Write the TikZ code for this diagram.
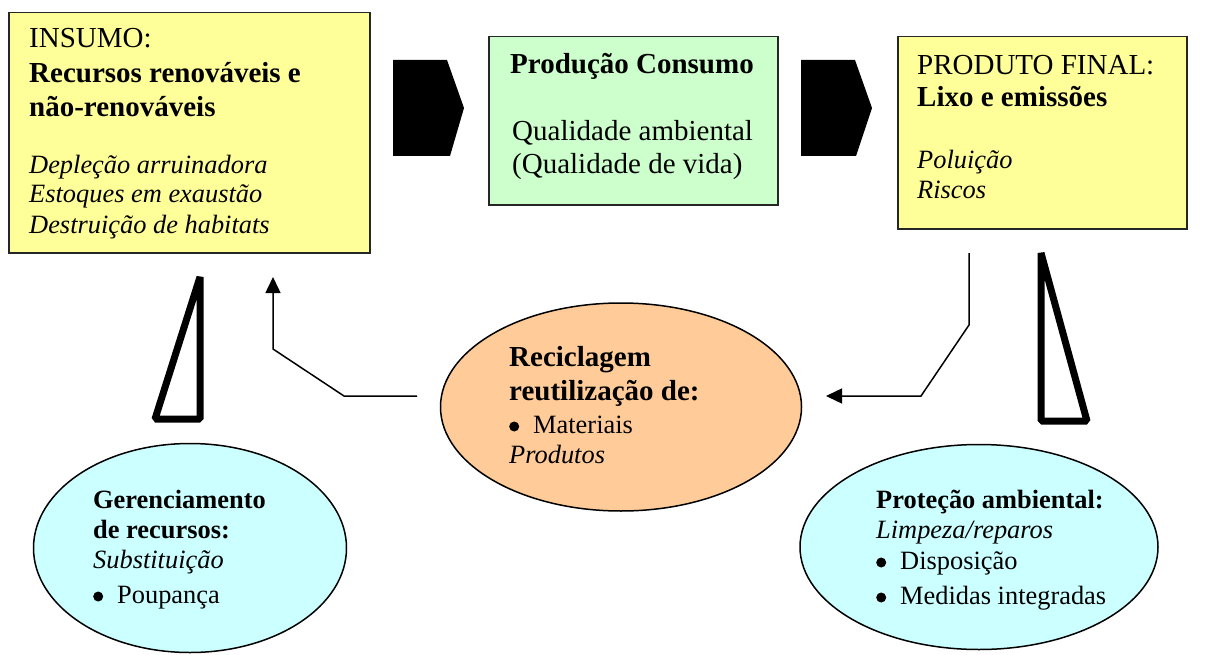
\documentclass[tikz,border=0pt]{standalone}
\usepackage{fontspec}
\setmainfont{Liberation Serif}
\usetikzlibrary{arrows.meta,shapes.geometric}
\definecolor{ylw}{HTML}{FFFF99}
\definecolor{grn}{HTML}{CCFFCC}
\definecolor{org}{HTML}{FFCC99}
\definecolor{cyn}{HTML}{CCFFFF}
\tikzset{
  box/.style={draw=black!85, line width=1.5pt, anchor=north west, inner sep=0pt},
  oval/.style={draw=black, line width=1.5pt, ellipse, inner sep=0pt},
  txt/.style={anchor=base west, inner sep=0pt},
  bigr/.style={txt, font=\fontsize{29}{33}\selectfont},
  bigb/.style={txt, font=\fontsize{29}{33}\selectfont\bfseries},
  nr/.style={txt, font=\fontsize{26.4}{30}\selectfont},
  nb/.style={txt, font=\fontsize{26.4}{30}\selectfont\bfseries},
  ni/.style={txt, font=\fontsize{26.4}{30}\selectfont\itshape},
  conn/.style={line width=1.5pt, -{Triangle[length=16pt,width=15pt]}},
  wedge/.style={line width=7pt, line join=bevel},
}
\newcommand{\bul}{\makebox[24pt][l]{\tikz[baseline=0pt]{\fill (5pt,6.5pt) circle[radius=5pt]; \path (0pt,0pt) (10pt,0pt);}}}
\begin{document}
\begin{tikzpicture}[x=1pt,y=-1pt]
\useasboundingbox (0,0) rectangle (1209,655);
\fill[white] (0,0) rectangle (1209,655);

% boxes
\node[box, fill=ylw, minimum width=361pt, minimum height=240pt] (insumo) at (8,12) {};
\node[box, fill=grn, minimum width=289pt, minimum height=168pt] (prod) at (488,36) {};
\node[box, fill=ylw, minimum width=289pt, minimum height=192pt] (final) at (897,36) {};

% ellipses
\node[oval, fill=org, minimum width=361pt, minimum height=208pt] (recic) at (621,407) {};
\node[oval, fill=cyn, minimum width=313pt, minimum height=209pt] (geren) at (190,548) {};
\node[oval, fill=cyn, minimum width=358pt, minimum height=205pt] (prot) at (979,547) {};

% block arrows
\fill (393,60) -- (447,60) -- (464,108) -- (450,156) -- (393,156) -- cycle;
\fill (801,60) -- (855,60) -- (872,108) -- (856,156) -- (801,156) -- cycle;

% wedges
\draw[wedge] (200,277) -- (200,419) -- (155,419) -- cycle;
\draw[wedge] (1041,253) -- (1041,421) -- (1087,421) -- cycle;

% connectors
\coordinate (lA) at (417,396);
\coordinate (lB) at (273,277);
\draw[conn] (lA) -- (344,396) -- (273,349) -- (lB);
\coordinate (rA) at (969,253);
\coordinate (rB) at (826,396);
\draw[conn] (rA) -- (969,325) -- (921,396) -- (rB);

% texts box 1
\node[bigr] (t1a) at (29,48) {INSUMO:};
\node[bigb] (t1b) at (29,83) {Recursos renováveis e};
\node[bigb] (t1c) at (29,117) {não-renováveis};
\node[ni] (t1d) at (29,174) {Depleção arruinadora};
\node[ni] (t1e) at (29,203) {Estoques em exaustão};
\node[ni] (t1f) at (29,233) {Destruição de habitats};

% box 2
\node[bigb] (t2a) at (510,74) {Produção Consumo};
\node[bigr] (t2b) at (512,141) {Qualidade ambiental};
\node[bigr] (t2c) at (512,174) {(Qualidade de vida)};

% box 3
\node[bigr] (t3a) at (917,75) {PRODUTO FINAL:};
\node[bigb] (t3b) at (917,107) {Lixo e emissões};
\node[ni] (t3c) at (917,168) {Poluição};
\node[ni] (t3d) at (917,198) {Riscos};

% recycling
\node[bigb] (t4a) at (509,366) {Reciclagem};
\node[bigb] (t4b) at (509,400) {reutilização de:};
\node[nr] (t4c) at (509,433) {\bul Materiais};
\node[ni] (t4d) at (509,463) {Produtos};

% resource management
\node[nb] (t5a) at (93,508) {Gerenciamento};
\node[nb] (t5b) at (93,538) {de recursos:};
\node[ni] (t5c) at (93,568) {Substituição};
\node[nr] (t5d) at (93,603) {\bul Poupança};

% environmental protection
\node[nb] (t6a) at (876,508) {Proteção ambiental:};
\node[ni] (t6b) at (876,538) {Limpeza/reparos};
\node[nr] (t6c) at (876,569) {\bul Disposição};
\node[nr] (t6d) at (876,604) {\bul Medidas integradas};
\end{tikzpicture}
\end{document}
